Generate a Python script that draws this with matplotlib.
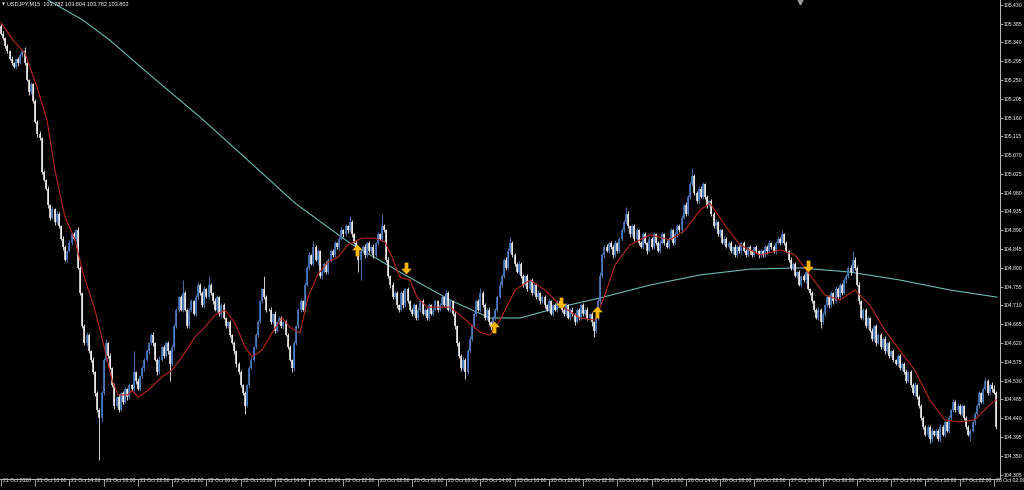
import matplotlib

matplotlib.use("Agg")
import matplotlib.pyplot as plt
import numpy as np
from matplotlib.path import Path
from matplotlib.transforms import ScaledTranslation

# USDJPY M15 closes, one per bar, starting 21 Oct 2020 06:00
CLOSE = [
    # 21 Oct 06:00 ...
    105.36, 105.35, 105.33, 105.32, 105.30, 105.29, 105.28, 105.30, 105.29, 105.31,
    105.32, 105.29, 105.25, 105.22, 105.24, 105.20, 105.15, 105.12, 105.11, 105.03,
    105.01, 104.99, 104.95, 104.92, 104.94, 104.91, 104.93, 104.90, 104.87, 104.85,
    104.82, 104.84, 104.86, 104.88, 104.87, 104.89, 104.80, 104.74, 104.66, 104.62,
    104.64, 104.60, 104.58, 104.55, 104.50, 104.46, 104.44,
    104.50, 104.58, 104.62, 104.59, 104.56, 104.52, 104.47, 104.49, 104.46, 104.50,
    104.48, 104.51, 104.49, 104.52, 104.51, 104.55, 104.53, 104.51, 104.54, 104.56,
    104.58, 104.60, 104.62, 104.64, 104.62, 104.58, 104.55, 104.58, 104.61, 104.59,
    104.62, 104.60, 104.57, 104.61, 104.66, 104.70, 104.73, 104.70, 104.74, 104.70,
    104.66, 104.70, 104.72, 104.69, 104.73, 104.76, 104.74,
    104.71, 104.75, 104.73, 104.76, 104.74, 104.72, 104.70, 104.73, 104.69, 104.71,
    104.68, 104.66, 104.67, 104.64, 104.62, 104.60, 104.57, 104.55, 104.52, 104.50,
    104.47, 104.52, 104.56, 104.58, 104.61, 104.64, 104.67, 104.72, 104.75, 104.73,
    104.70, 104.70, 104.67, 104.69, 104.65, 104.67, 104.68, 104.66, 104.67, 104.64,
    104.61, 104.58, 104.56, 104.62, 104.66, 104.70,
    104.72, 104.70, 104.76, 104.80, 104.83, 104.81, 104.85, 104.82, 104.84, 104.78,
    104.79, 104.81, 104.79, 104.82, 104.84, 104.83, 104.86, 104.85, 104.87, 104.89,
    104.88, 104.90, 104.89, 104.91, 104.88, 104.86, 104.85, 104.82, 104.84, 104.85,
    104.83, 104.86, 104.84, 104.85, 104.83, 104.86, 104.88, 104.87, 104.90, 104.89,
    104.82, 104.78, 104.76, 104.73, 104.74, 104.71, 104.70,
    104.74, 104.71, 104.75, 104.72, 104.70, 104.69, 104.71, 104.68, 104.70, 104.72,
    104.69, 104.70, 104.68, 104.71, 104.69, 104.70, 104.72, 104.70, 104.71, 104.73,
    104.71, 104.74, 104.70, 104.72, 104.69, 104.66, 104.62, 104.59, 104.56, 104.58,
    104.55, 104.60, 104.63, 104.66, 104.69, 104.72, 104.70, 104.74, 104.71, 104.68,
    104.70, 104.67, 104.66, 104.68, 104.70, 104.73, 104.76,
    104.78, 104.82, 104.80, 104.84, 104.86, 104.83, 104.81, 104.79, 104.81, 104.78,
    104.76, 104.78, 104.75, 104.77, 104.74, 104.76, 104.73, 104.74, 104.72, 104.73,
    104.71, 104.70, 104.72, 104.69, 104.71, 104.70, 104.72, 104.71, 104.70, 104.69,
    104.71, 104.68, 104.70, 104.69, 104.67, 104.70, 104.68, 104.71, 104.69, 104.70,
    104.68, 104.69, 104.67, 104.65, 104.68, 104.72, 104.78,
    # 26 Oct
    104.83, 104.85, 104.84, 104.86, 104.85, 104.83, 104.86, 104.84, 104.87, 104.89,
    104.91, 104.93, 104.90, 104.88, 104.90, 104.87, 104.89, 104.86, 104.85, 104.88,
    104.86, 104.84, 104.87, 104.85, 104.88, 104.86, 104.84, 104.86, 104.88, 104.86,
    104.85, 104.87, 104.89, 104.86, 104.88, 104.90, 104.89, 104.92, 104.95, 104.93,
    104.97, 105.00, 105.02, 104.98, 104.96, 104.99, 104.97,
    105.00, 104.97, 104.95, 104.96, 104.93, 104.90, 104.91, 104.88, 104.89, 104.86,
    104.87, 104.85, 104.86, 104.84, 104.85, 104.83, 104.85, 104.84, 104.86, 104.84,
    104.83, 104.85, 104.84, 104.83, 104.85, 104.84, 104.83, 104.84, 104.83, 104.85,
    104.84, 104.86, 104.85, 104.84, 104.86, 104.87, 104.86, 104.88, 104.86, 104.84,
    104.82, 104.80, 104.81, 104.78, 104.79, 104.76, 104.78,
    104.77, 104.79, 104.75, 104.74, 104.72, 104.70, 104.68, 104.70, 104.67, 104.69,
    104.71, 104.73, 104.71, 104.74, 104.72, 104.75, 104.73, 104.76, 104.74, 104.77,
    104.78, 104.80, 104.79, 104.82, 104.80, 104.76, 104.72, 104.68, 104.70, 104.66,
    104.68, 104.65, 104.63, 104.66, 104.62, 104.64, 104.61, 104.63, 104.60, 104.62,
    104.59, 104.60, 104.58, 104.57, 104.59, 104.56,
    104.57, 104.55, 104.53, 104.55, 104.52, 104.50, 104.52, 104.49, 104.47, 104.44,
    104.42, 104.40, 104.42, 104.39, 104.41, 104.40, 104.41, 104.39, 104.42, 104.40,
    104.43, 104.41, 104.44, 104.46, 104.48, 104.46, 104.47, 104.45, 104.47, 104.44,
    104.42, 104.40, 104.41, 104.43, 104.45, 104.47, 104.50, 104.48, 104.51, 104.53,
    104.50, 104.52, 104.51, 104.50, 104.42,
]
FIRST_OPEN = 105.38

# wick lengths beyond the body, in points (0.001)
WICK_UP_PTS = [
    4, 6, 3, 5, 2, 7, 4, 3, 6, 5, 3, 8, 4, 2, 6, 3, 5, 4, 7, 3,
    5, 2, 6, 4, 8, 3, 5, 4, 2, 6, 5, 3, 7, 4, 6, 3, 8, 4, 2, 5,
    6, 3, 4, 7, 3, 5, 4,
    5, 4, 10, 3, 6, 2, 5, 4, 7, 3, 5, 6, 3, 4, 2, 50, 4, 6, 3, 5,
    4, 7, 3, 5, 6, 2, 4, 8, 3, 5, 4, 6, 3, 7, 5, 4, 2, 6, 30, 4,
    5, 3, 6, 4, 7, 3, 5,
    4, 6, 3, 20, 5, 3, 7, 4, 2, 6, 5, 3, 4, 6, 2, 5, 3, 4, 6, 3,
    5, 2, 4, 7, 3, 5, 6, 4, 3, 30, 5, 4, 6, 3, 7, 2, 5, 4, 3, 6,
    4, 5, 3, 6, 4, 5,
    5, 3, 6, 4, 7, 3, 15, 4, 6, 3, 5, 4, 7, 3, 5, 6, 4, 3, 5, 7,
    4, 6, 3, 15, 5, 4, 6, 3, 5, 4, 7, 3, 5, 4, 6, 3, 5, 4, 30, 6,
    4, 5, 3, 6, 4, 5, 3,
    4, 6, 3, 5, 4, 3, 5, 4, 6, 3, 5, 4, 3, 6, 4, 5, 3, 4, 6, 5,
    3, 7, 4, 5, 3, 6, 4, 5, 3, 6, 4, 5, 7, 3, 5, 4, 6, 12, 4, 5,
    3, 6, 4, 5, 3, 6, 8,
    6, 4, 5, 7, 15, 4, 5, 3, 6, 4, 5, 3, 6, 4, 5, 3, 4, 6, 3, 5,
    4, 3, 5, 4, 3, 6, 4, 5, 3, 4, 5, 3, 4, 6, 3, 5, 4, 3, 5, 4,
    6, 3, 5, 4, 6, 8, 10,
    5, 4, 6, 3, 5, 4, 6, 3, 5, 6, 4, 15, 5, 3, 6, 4, 5, 3, 4, 6,
    5, 3, 6, 4, 5, 3, 4, 6, 5, 3, 6, 4, 5, 3, 6, 4, 5, 6, 4, 7,
    5, 6, 20, 5, 4, 6, 5,
    6, 4, 5, 3, 5, 4, 6, 3, 5, 4, 6, 3, 5, 4, 3, 6, 4, 5, 3, 4,
    6, 3, 5, 4, 3, 5, 4, 6, 3, 5, 4, 6, 3, 5, 4, 6, 5, 10, 4, 5,
    3, 6, 4, 5, 3, 5, 4,
    5, 4, 6, 3, 5, 4, 3, 6, 4, 5, 3, 6, 4, 5, 3, 6, 4, 5, 3, 6,
    5, 4, 6, 20, 5, 4, 6, 3, 5, 4, 6, 3, 5, 4, 6, 3, 5, 4, 6, 3,
    5, 4, 6, 3, 5, 4,
    5, 4, 7, 3, 5, 4, 6, 2, 5, 4, 6, 3, 5, 4, 7, 3, 5, 4, 6, 3,
    5, 4, 8, 3, 5, 4, 6, 3, 5, 2, 6, 3, 5, 4, 6, 3, 5, 4, 6, 8,
    5, 4, 6, 10, 5,
]
WICK_DN_PTS = [
    3, 5, 4, 6, 3, 5, 2, 4, 6, 3, 5, 4, 3, 7, 4, 5, 3, 6, 4, 5,
    3, 4, 6, 5, 3, 7, 4, 5, 3, 6, 4, 5, 3, 6, 4, 5, 3, 6, 4, 5,
    7, 3, 5, 4, 6, 5, 100,
    8, 5, 4, 6, 3, 5, 7, 4, 6, 3, 5, 4, 6, 3, 5, 4, 7, 3, 5, 4,
    6, 3, 5, 4, 6, 3, 7, 5, 4, 6, 3, 5, 40, 4, 6, 3, 5, 4, 6, 3,
    5, 4, 6, 3, 5, 4, 6,
    4, 6, 3, 5, 4, 6, 3, 5, 4, 7, 3, 5, 4, 6, 3, 5, 7, 4, 6, 5,
    20, 4, 6, 3, 5, 4, 6, 3, 5, 4, 6, 3, 5, 4, 7, 3, 5, 4, 6, 3,
    5, 4, 10, 6, 4, 5,
    5, 4, 6, 3, 5, 4, 6, 3, 12, 4, 6, 3, 5, 4, 6, 3, 5, 4, 6, 3,
    5, 4, 6, 3, 5, 4, 6, 30, 50, 4, 6, 3, 5, 4, 6, 3, 5, 4, 6, 3,
    5, 4, 8, 5, 4, 6, 5,
    4, 6, 3, 5, 4, 6, 3, 5, 4, 6, 3, 5, 4, 6, 3, 5, 4, 6, 3, 5,
    4, 6, 3, 5, 4, 6, 8, 5, 6, 4, 15, 5, 4, 6, 3, 5, 4, 6, 3, 5,
    4, 6, 8, 5, 4, 6, 3,
    5, 4, 6, 3, 5, 4, 6, 3, 5, 4, 6, 3, 5, 4, 6, 3, 5, 4, 6, 3,
    5, 4, 6, 3, 5, 4, 6, 3, 5, 4, 6, 3, 5, 4, 6, 3, 5, 4, 6, 3,
    5, 4, 8, 15, 5, 4, 6,
    4, 6, 3, 5, 4, 6, 3, 5, 4, 6, 3, 5, 4, 6, 3, 5, 4, 6, 3, 5,
    4, 6, 3, 5, 4, 6, 3, 5, 4, 6, 3, 5, 4, 6, 3, 5, 4, 6, 3, 5,
    4, 6, 3, 5, 4, 6, 3,
    5, 4, 6, 3, 5, 4, 6, 3, 5, 4, 6, 3, 5, 4, 6, 3, 5, 4, 6, 3,
    5, 4, 6, 3, 5, 4, 6, 3, 5, 4, 6, 3, 5, 4, 6, 3, 5, 4, 6, 3,
    5, 4, 6, 3, 5, 4, 6,
    4, 6, 3, 5, 4, 6, 3, 5, 15, 4, 6, 3, 5, 4, 6, 3, 5, 4, 6, 3,
    5, 4, 6, 3, 5, 4, 6, 3, 5, 4, 6, 3, 5, 4, 6, 3, 5, 4, 6, 3,
    5, 4, 6, 3, 5, 4,
    5, 4, 6, 3, 5, 4, 6, 3, 5, 4, 6, 3, 5, 10, 6, 3, 5, 4, 6, 3,
    5, 4, 6, 3, 5, 4, 6, 3, 5, 4, 6, 3, 15, 4, 6, 3, 5, 4, 6, 3,
    5, 4, 6, 3, 5,
]

# fast MA (red), sampled along the bar axis
RED_MA_BARS = [0, 5.6, 11.2, 16.8, 21.5, 25.2, 29.9, 34.6, 38.3, 43.9, 48.6, 51.9,
               54.7, 59.3, 61.2, 64.0, 68.7, 75.2, 79.9, 84.6, 90.7, 95.3, 100,
               104.7, 109.3, 114, 117.3, 122, 126.6, 131.3, 135, 139.7, 143.5,
               148.1, 152.8, 157.5, 162.1, 168.7, 174.8, 179.4, 182.7, 186.4,
               191.1, 194.4, 199.1, 209.8, 214.5, 223.8, 228.5, 233.2, 240.2,
               247.2, 254.2, 261.2, 270.6, 277.6, 282.2, 286.9, 293.9, 303.3,
               312.6, 319.6, 326.6, 331.3, 338.3, 345.3, 354.7, 364, 371, 378,
               385, 392, 399, 406, 413, 420, 427, 434, 441, 448, 455, 462, 465]
RED_MA = [105.388, 105.345, 105.314, 105.233, 105.154, 105.034, 104.922, 104.867,
          104.788, 104.699, 104.603, 104.531, 104.496, 104.496, 104.507, 104.491,
          104.507, 104.539, 104.555, 104.587, 104.635, 104.658, 104.687, 104.699,
          104.668, 104.611, 104.587, 104.603, 104.644, 104.680, 104.658, 104.644,
          104.730, 104.785, 104.814, 104.826, 104.855, 104.871, 104.871, 104.862,
          104.826, 104.778, 104.771, 104.730, 104.706, 104.706, 104.687, 104.646,
          104.639, 104.675, 104.747, 104.771, 104.747, 104.711, 104.680, 104.675,
          104.735, 104.807, 104.855, 104.879, 104.867, 104.890, 104.938, 104.955,
          104.902, 104.855, 104.831, 104.843, 104.831, 104.783, 104.735, 104.723,
          104.747, 104.711, 104.651, 104.603, 104.555, 104.484, 104.436, 104.431,
          104.436, 104.472, 104.484]

# slow MA (teal)
SLOW_MA_BARS = [22, 38.3, 50.9, 69.6, 93, 116.4, 137.4, 163.1, 186.4, 209.8, 228.5,
                242.5, 261.2, 279.9, 303.3, 326.6, 350, 373.4, 396.7, 420, 443.5, 465.4]
SLOW_MA = [105.441, 105.393, 105.345, 105.262, 105.161, 105.053, 104.955, 104.859,
           104.790, 104.723, 104.680, 104.680, 104.706, 104.728, 104.759, 104.783,
           104.797, 104.800, 104.790, 104.771, 104.747, 104.730]

UP_ARROW_BARS = [166.4, 230.4, 278.5]
UP_ARROW_PRICE = [104.843, 104.658, 104.694]
DOWN_ARROW_BARS = [189.3, 261.7, 377.1]
DOWN_ARROW_PRICE = [104.800, 104.716, 104.805]

PRICE_TICKS = [105.430, 105.385, 105.340, 105.295, 105.250, 105.205, 105.160,
               105.115, 105.070, 105.025, 104.980, 104.935, 104.890, 104.845,
               104.800, 104.755, 104.710, 104.665, 104.620, 104.575, 104.530,
               104.485, 104.440, 104.395, 104.350, 104.305]
TIME_TICKS = [0, 16, 32, 48, 64, 80, 96, 112, 128, 144, 160, 176, 192, 208, 224,
              240, 256, 272, 288, 304, 320, 336, 352, 368, 384, 400, 416, 432,
              448, 464]
TIME_LABELS = ["21 Oct 2020", "21 Oct 10:00", "21 Oct 14:00", "21 Oct 18:00",
               "21 Oct 22:00", "22 Oct 02:00", "22 Oct 06:00", "22 Oct 10:00",
               "22 Oct 14:00", "22 Oct 18:00", "22 Oct 22:00", "23 Oct 02:00",
               "23 Oct 06:00", "23 Oct 10:00", "23 Oct 14:00", "23 Oct 18:00",
               "23 Oct 22:00", "26 Oct 02:00", "26 Oct 06:00", "26 Oct 10:00",
               "26 Oct 14:00", "26 Oct 18:00", "26 Oct 22:00", "27 Oct 02:00",
               "27 Oct 06:00", "27 Oct 10:00", "27 Oct 14:00", "27 Oct 18:00",
               "27 Oct 22:00", "28 Oct 02:00"]
HEADER = "USDJPY,M15  103.782 103.804 103.782 103.802"

BULL = "#4f7fc6"
BEAR = "#f2f2f2"
AXIS = "#bdbdbd"
FONT = ["Liberation Sans", "DejaVu Sans"]
TICK_SIZE = 3.7

UP_MARKER = Path([(0, 0.5), (0.45, 0.02), (0.16, 0.02), (0.16, -0.5),
                  (-0.16, -0.5), (-0.16, 0.02), (-0.45, 0.02), (0, 0.5)],
                 [Path.MOVETO] + [Path.LINETO] * 6 + [Path.CLOSEPOLY])
DOWN_MARKER = Path([(x, -y) for x, y in UP_MARKER.vertices], UP_MARKER.codes)


def main():
    close = np.array(CLOSE)
    opens = np.concatenate([[FIRST_OPEN], close[:-1]])
    x = np.arange(len(close))
    top = np.maximum(opens, close)
    bot = np.minimum(opens, close)
    high = top + np.array(WICK_UP_PTS) / 1000.0
    low = bot - np.array(WICK_DN_PTS) / 1000.0
    bot_draw = np.where(top - bot < 0.0015, top - 0.0015, bot)
    bull = close > opens

    fig = plt.figure(figsize=(10.24, 4.9), dpi=100, facecolor="black")
    ax = fig.add_axes([0, 11 / 490, 1000 / 1024, 479 / 490], facecolor="black")

    ax.plot(SLOW_MA_BARS, SLOW_MA, color="#6cbab2", lw=0.8, zorder=2)

    for mask, col in ((bull, BULL), (~bull, BEAR)):
        ax.vlines(x[mask], low[mask], high[mask], color=col, lw=0.6, zorder=3)
        ax.vlines(x[mask], bot_draw[mask], top[mask], color=col, lw=1.15, zorder=3)

    ax.plot(RED_MA_BARS, RED_MA, color="#b8261c", lw=0.8, zorder=4)

    ax.plot(UP_ARROW_BARS, UP_ARROW_PRICE, ls="none", marker=UP_MARKER, ms=8.5,
            color="#f7b600", mec="none", zorder=5)
    ax.plot(DOWN_ARROW_BARS, DOWN_ARROW_PRICE, ls="none", marker=DOWN_MARKER, ms=8.5,
            color="#f7b600", mec="none", zorder=5)

    ax.set_xlim(-1 / 2.14, 999 / 2.14)
    ax.set_ylim(104.2946, 105.4413)

    for side in ("left", "top"):
        ax.spines[side].set_visible(False)
    for side in ("right", "bottom"):
        ax.spines[side].set_color(AXIS)
        ax.spines[side].set_linewidth(0.7)

    ax.yaxis.tick_right()
    ax.set_yticks(PRICE_TICKS)
    ax.set_yticklabels([f"{p:.3f}" for p in PRICE_TICKS])
    ax.tick_params(axis="y", direction="out", length=1.8, width=0.6, color=AXIS,
                   labelcolor="white", labelsize=TICK_SIZE, pad=0.8)
    ax.set_xticks(TIME_TICKS)
    ax.set_xticklabels(TIME_LABELS)
    ax.tick_params(axis="x", direction="out", length=5, width=0.6, color=AXIS,
                   labelcolor="white", labelsize=TICK_SIZE, pad=-6)
    shift = ScaledTranslation(2 / 100, 0, fig.dpi_scale_trans)
    for lab in ax.get_xticklabels():
        lab.set_horizontalalignment("left")
        lab.set_transform(lab.get_transform() + shift)
        lab.set_family(FONT)
    for lab in ax.get_yticklabels():
        lab.set_family(FONT)

    fig.text(2 / 1024, 1 - 4 / 490, "\u25bc", color="white", fontsize=2.8,
             va="center", ha="left")
    fig.text(7 / 1024, 1 - 4 / 490, HEADER, color="white", fontsize=4.0,
             va="center", ha="left", family=FONT)
    ax.plot([800 / 1024], [1 - 2 / 490], marker="v", ms=3.5, color="#9a9a9a",
            transform=fig.transFigure, clip_on=False)

    fig.savefig("out.png", dpi=100, facecolor="black")
    plt.close(fig)


if __name__ == "__main__":
    main()
